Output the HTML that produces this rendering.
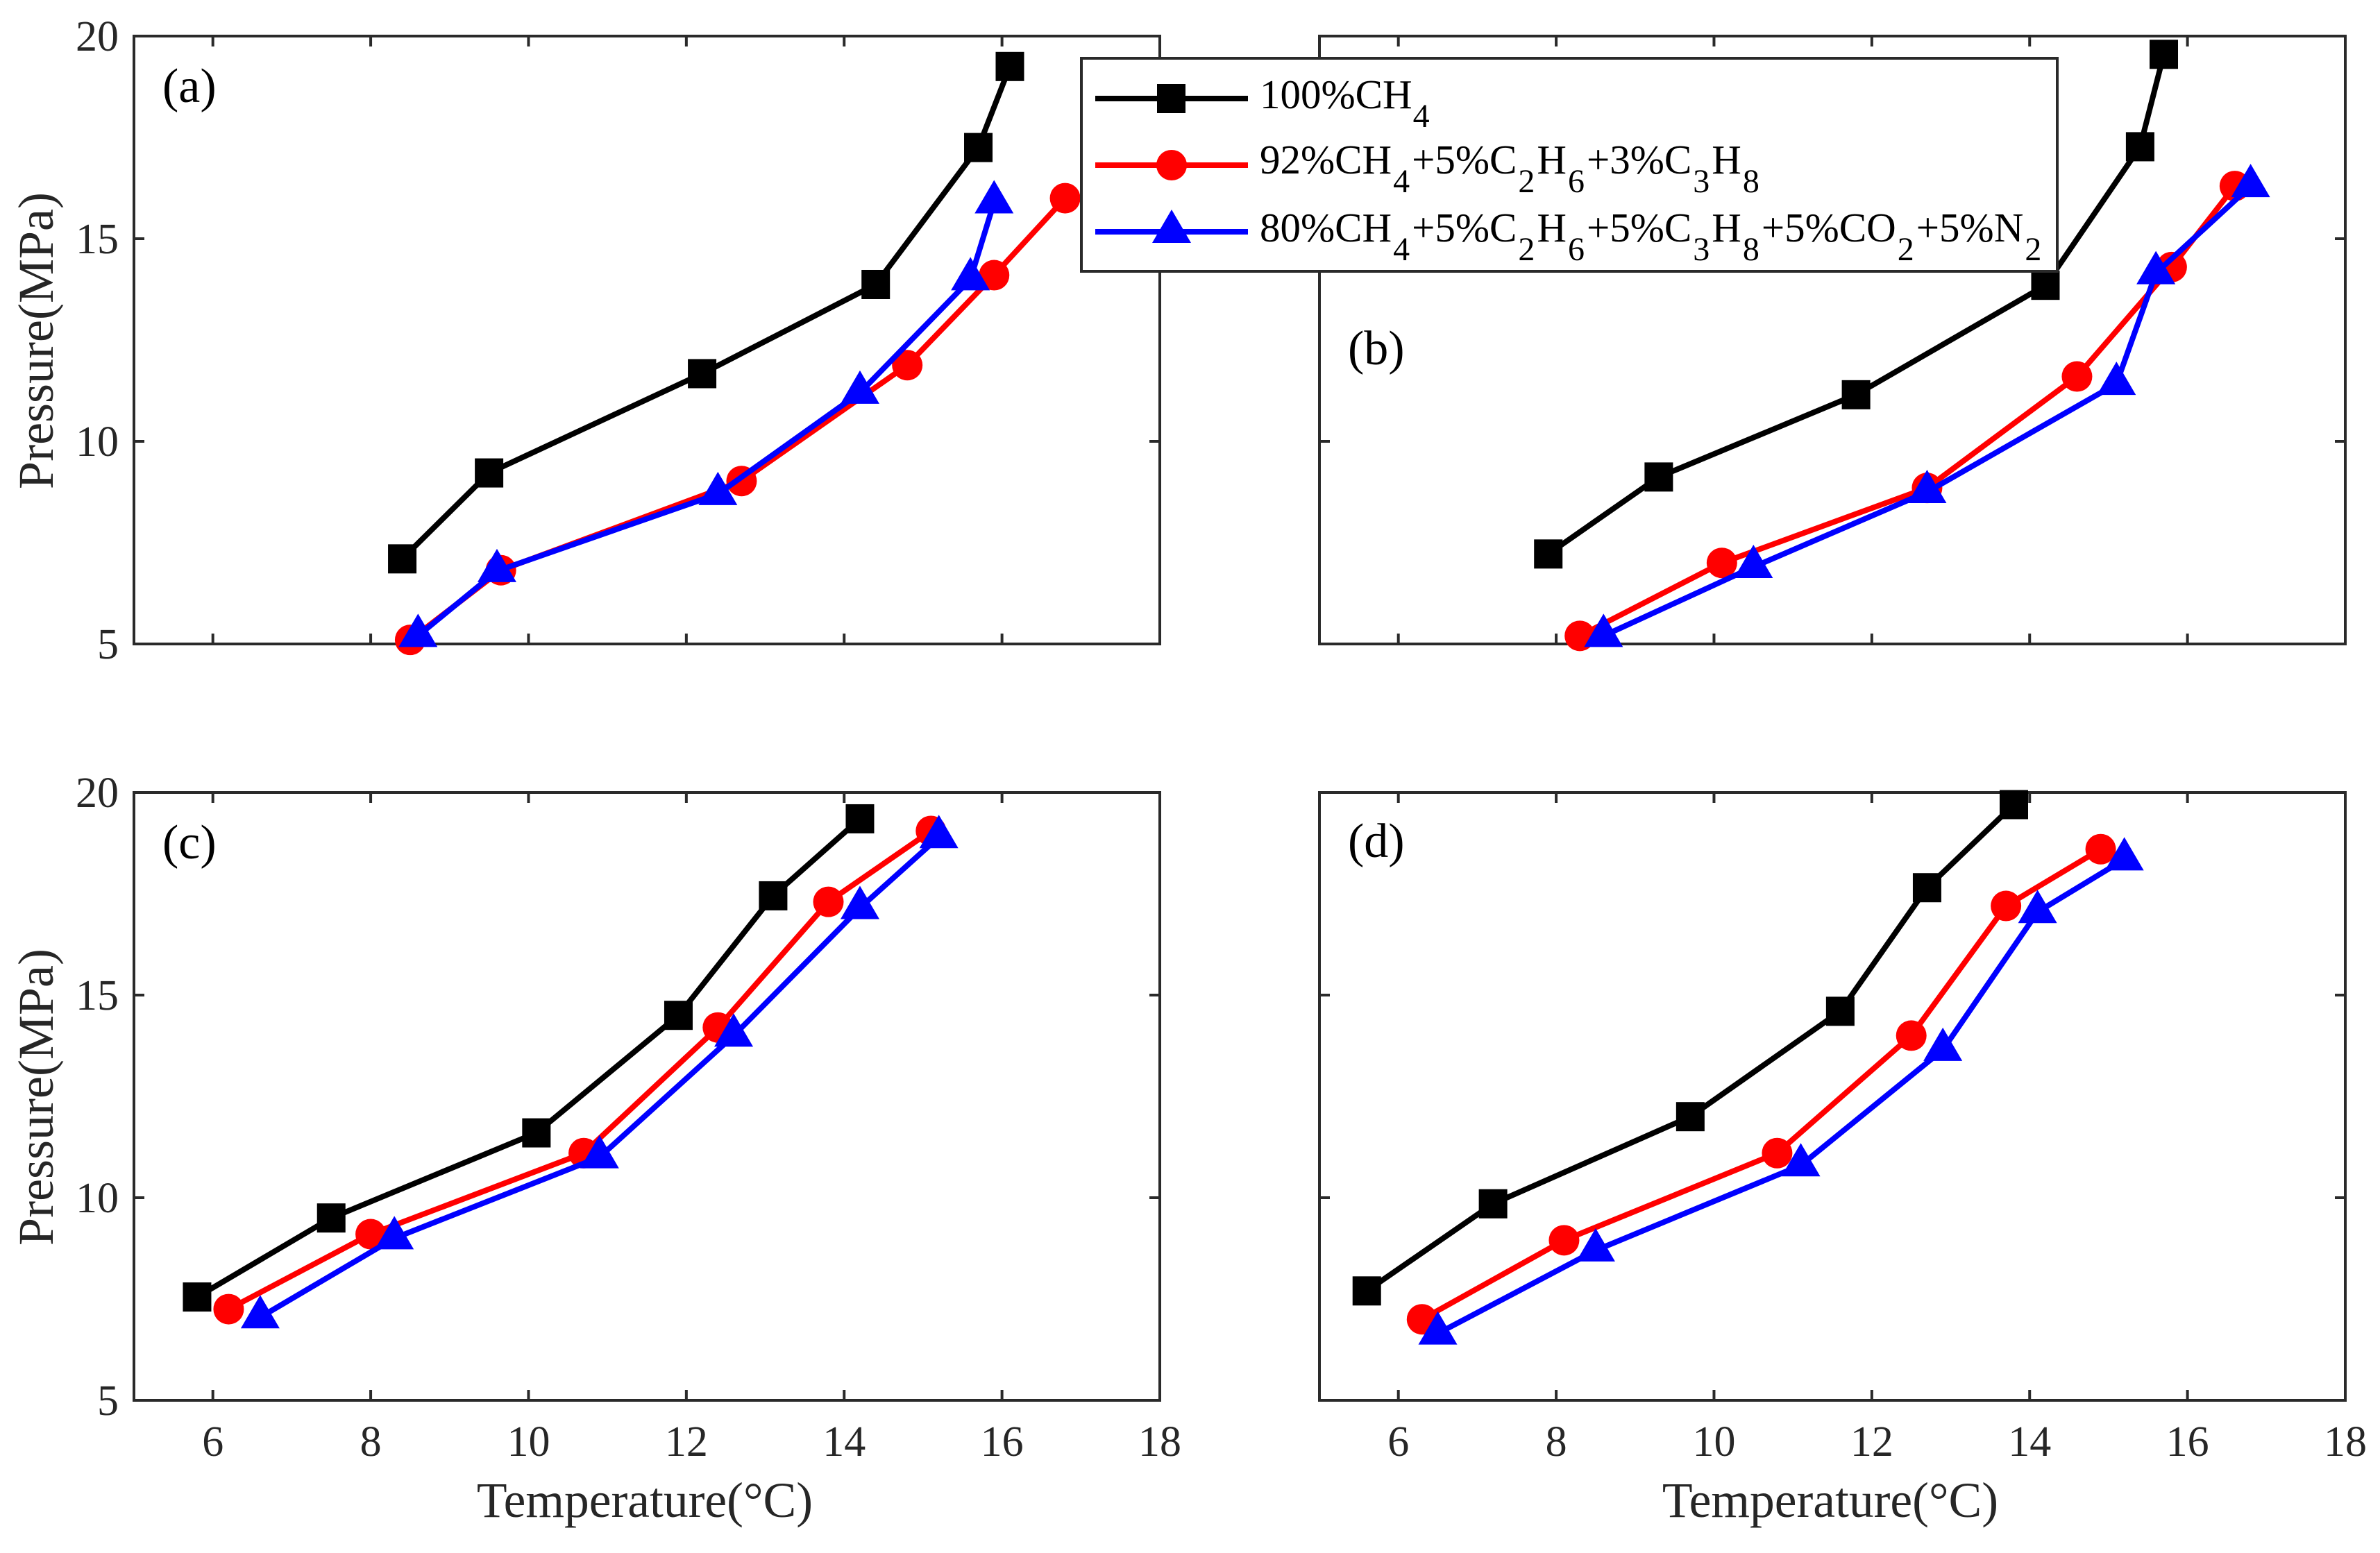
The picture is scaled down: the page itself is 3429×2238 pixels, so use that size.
<!DOCTYPE html>
<html lang="en">
<head>
<meta charset="utf-8">
<title>Pressure vs Temperature</title>
<style>
html,body{margin:0;padding:0;background:#fff;}
svg{display:block;}
text{font-family:"Liberation Serif",serif;}
</style>
</head>
<body>
<svg id="chart" xmlns="http://www.w3.org/2000/svg" width="3429" height="2238" viewBox="0 0 3429 2238">
  <rect x="0" y="0" width="3429" height="2238" fill="#fff"/>
  <g id="panels"></g>
  <text transform="translate(76,491) rotate(-90)" text-anchor="middle" font-size="72" fill="#262626">Pressure(MPa)</text>
  <text transform="translate(76,1581) rotate(-90)" text-anchor="middle" font-size="72" fill="#262626">Pressure(MPa)</text>
  <text x="929" y="2186" text-anchor="middle" font-size="71.5" fill="#262626">Temperature(°C)</text>
  <text x="2637" y="2186" text-anchor="middle" font-size="71.5" fill="#262626">Temperature(°C)</text>
  <text x="234" y="147" font-size="70" fill="#000">(a)</text>
  <text x="1942" y="525" font-size="70" fill="#000">(b)</text>
  <text x="234" y="1237" font-size="70" fill="#000">(c)</text>
  <text x="1942" y="1235" font-size="70" fill="#000">(d)</text>
  <g>
    <rect x="1558" y="84" width="1406" height="307" fill="#fff" stroke="#2a2a2a" stroke-width="4"/>
    <g>
      <line x1="1578" x2="1798" y1="142" y2="142" stroke="#000" stroke-width="8"/>
      <rect x="1667" y="121" width="41" height="42" fill="#000"/>
      <text x="1815" y="156" font-size="59" fill="#000">100%CH<tspan font-size="48" dx="1" dy="27">4</tspan></text>
    </g>
    <g>
      <line x1="1578" x2="1798" y1="238" y2="238" stroke="#f00" stroke-width="8"/>
      <circle cx="1688" cy="238" r="22" fill="#f00"/>
      <text x="1815" y="250" font-size="59" fill="#000">92%CH<tspan font-size="48" dx="2" dy="27">4</tspan><tspan dx="3" dy="-27">+5%C</tspan><tspan font-size="48" dx="2" dy="27">2</tspan><tspan dx="3" dy="-27">H</tspan><tspan font-size="48" dx="2" dy="27">6</tspan><tspan dx="3" dy="-27">+3%C</tspan><tspan font-size="48" dx="2" dy="27">3</tspan><tspan dx="3" dy="-27">H</tspan><tspan font-size="48" dx="2" dy="27">8</tspan></text>
    </g>
    <g>
      <line x1="1578" x2="1798" y1="334" y2="334" stroke="#00f" stroke-width="8"/>
      <polygon points="1688,302 1716,350 1660,350" fill="#00f"/>
      <text x="1815" y="348" font-size="59" fill="#000">80%CH<tspan font-size="48" dx="2" dy="27">4</tspan><tspan dx="3" dy="-27">+5%C</tspan><tspan font-size="48" dx="2" dy="27">2</tspan><tspan dx="3" dy="-27">H</tspan><tspan font-size="48" dx="2" dy="27">6</tspan><tspan dx="3" dy="-27">+5%C</tspan><tspan font-size="48" dx="2" dy="27">3</tspan><tspan dx="3" dy="-27">H</tspan><tspan font-size="48" dx="2" dy="27">8</tspan><tspan dx="3" dy="-27">+5%CO</tspan><tspan font-size="48" dx="2" dy="27">2</tspan><tspan dx="3" dy="-27">+5%N</tspan><tspan font-size="48" dx="2" dy="27">2</tspan></text>
    </g>
  </g>
</svg>
<script>
const xTickLabels = [6, 8, 10, 12, 14, 16, 18];
const yTickLabels = [5, 10, 15, 20];

const aBlackT = [8.4, 9.5, 12.2, 14.4, 15.7, 16.1];
const aBlackP = [7.1, 9.22, 11.67, 13.87, 17.25, 19.25];
const aRedT = [8.5, 9.65, 12.7, 14.8, 15.9, 16.8];
const aRedP = [5.1, 6.82, 9.02, 11.88, 14.1, 16.0];
const aBlueT = [8.6, 9.6, 12.4, 14.2, 15.6, 15.9];
const aBlueP = [5.2, 6.8, 8.7, 11.2, 14.0, 15.9];

const bBlackT = [7.9, 9.3, 11.8, 14.2, 15.4, 15.7];
const bBlackP = [7.22, 9.12, 11.15, 13.85, 17.27, 19.55];
const bRedT = [8.3, 10.1, 12.7, 14.6, 15.8, 16.6];
const bRedP = [5.2, 7.0, 8.85, 11.6, 14.3, 16.3];
const bBlueT = [8.6, 10.5, 12.7, 15.1, 15.6, 16.8];
const bBlueP = [5.2, 6.9, 8.75, 11.42, 14.15, 16.3];

const cBlackT = [5.8, 7.5, 10.1, 11.9, 13.1, 14.2];
const cBlackP = [7.55, 9.5, 11.6, 14.5, 17.45, 19.35];
const cRedT = [6.2, 8.0, 10.7, 12.4, 13.8, 15.1];
const cRedP = [7.25, 9.1, 11.1, 14.2, 17.3, 19.05];
const cBlueT = [6.6, 8.3, 10.9, 12.6, 14.2, 15.2];
const cBlueP = [7.05, 9.0, 11.0, 14.0, 17.15, 18.9];

const dBlackT = [5.6, 7.2, 9.7, 11.6, 12.7, 13.8];
const dBlackP = [7.7, 9.85, 12.0, 14.6, 17.65, 19.7];
const dRedT = [6.3, 8.1, 10.8, 12.5, 13.7, 14.9];
const dRedP = [7.0, 8.95, 11.1, 14.0, 17.2, 18.6];
const dBlueT = [6.5, 8.5, 11.1, 12.9, 14.1, 15.2];
const dBlueP = [6.65, 8.7, 10.8, 13.65, 17.05, 18.35];

const xMin = 5, xMax = 18, yMin = 5, yMax = 20;
const plotWidth = 1478, plotHeight = 876;
const NS = 'http://www.w3.org/2000/svg';
const frameColor = '#2a2a2a';
const tickLen = 15;

function make(parent, tag, props) {
  const el = document.createElementNS(NS, tag);
  for (const k in props) el.setAttribute(k, props[k]);
  parent.appendChild(el);
  return el;
}

function drawPanel(id, left, top, labelX, labelY, series) {
  const sx = v => left + (v - xMin) / (xMax - xMin) * plotWidth;
  const sy = v => top + plotHeight - (v - yMin) / (yMax - yMin) * plotHeight;
  const root = document.getElementById('panels');

  const g = make(root, 'g', {});
  
  

  const frame = make(g, 'rect', {x: left, y: top, width: plotWidth, height: plotHeight, fill: 'none', stroke: frameColor, 'stroke-width': 4});
  
  

  xTickLabels.forEach(t => {
    if (t < xMax) {
      const b = make(g, 'line', {x1: sx(t), x2: sx(t), y1: top + plotHeight, y2: top + plotHeight - tickLen, stroke: frameColor, 'stroke-width': 4});
      
      
      const u = make(g, 'line', {x1: sx(t), x2: sx(t), y1: top, y2: top + tickLen, stroke: frameColor, 'stroke-width': 4});
      
      
    }
    if (labelX) {
      const tx = make(g, 'text', {x: sx(t), y: top + plotHeight + 80, 'text-anchor': 'middle', 'font-size': 62, fill: '#262626'});
      tx.textContent = t;
      
      
    }
  });

  yTickLabels.forEach(t => {
    if (t > yMin && t < yMax) {
      const l = make(g, 'line', {x1: left, x2: left + tickLen, y1: sy(t), y2: sy(t), stroke: frameColor, 'stroke-width': 4});
      
      
      const r = make(g, 'line', {x1: left + plotWidth, x2: left + plotWidth - tickLen, y1: sy(t), y2: sy(t), stroke: frameColor, 'stroke-width': 4});
      
      
    }
    if (labelY) {
      const ty = make(g, 'text', {x: left - 22, y: sy(t) + 21, 'text-anchor': 'end', 'font-size': 62, fill: '#262626'});
      ty.textContent = t;
      
      
    }
  });

  series.forEach(s => {
    const pts = s.t.map((v, i) => sx(v) + ',' + sy(s.p[i])).join(' ');
    const line = make(g, 'polyline', {points: pts, fill: 'none', stroke: s.color, 'stroke-width': 8, 'stroke-linejoin': 'miter'});
    
    
    s.t.forEach((v, i) => {
      const cx = sx(v), cy = sy(s.p[i]);
      let m;
      if (s.shape === 'square') {
        m = make(g, 'rect', {x: cx - 20.5, y: cy - 21, width: 41, height: 42, fill: s.color});
      } else if (s.shape === 'circle') {
        m = make(g, 'circle', {cx: cx, cy: cy, r: 22, fill: s.color});
      } else {
        m = make(g, 'polygon', {points: cx + ',' + (cy - 32) + ' ' + (cx + 28) + ',' + (cy + 16) + ' ' + (cx - 28) + ',' + (cy + 16), fill: s.color});
      }
      
      
    });
  });
}

function seriesOf(bt, bp, rt, rp, ut, up) {
  return [
    {name: 'ch4', color: '#000', shape: 'square', t: bt, p: bp},
    {name: 'mix-a', color: '#f00', shape: 'circle', t: rt, p: rp},
    {name: 'mix-b', color: '#00f', shape: 'triangle', t: ut, p: up}
  ];
}

drawPanel('a', 193, 52, false, true, seriesOf(aBlackT, aBlackP, aRedT, aRedP, aBlueT, aBlueP));
drawPanel('b', 1901, 52, false, false, seriesOf(bBlackT, bBlackP, bRedT, bRedP, bBlueT, bBlueP));
drawPanel('c', 193, 1142, true, true, seriesOf(cBlackT, cBlackP, cRedT, cRedP, cBlueT, cBlueP));
drawPanel('d', 1901, 1142, true, false, seriesOf(dBlackT, dBlackP, dRedT, dRedP, dBlueT, dBlueP));
</script>
</body>
</html>
